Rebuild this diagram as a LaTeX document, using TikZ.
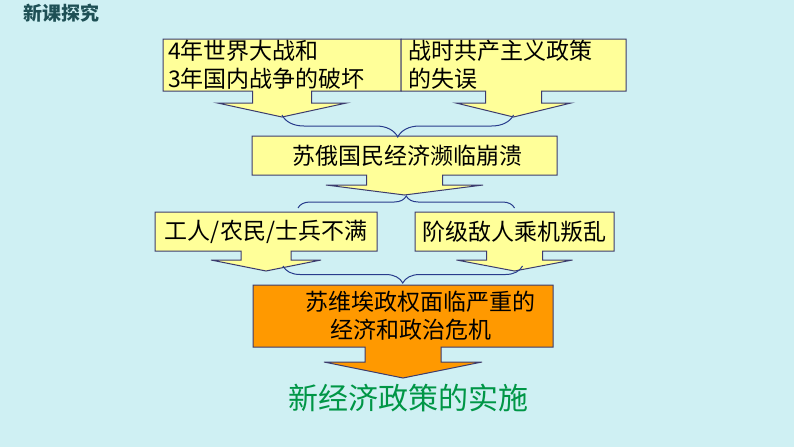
\documentclass[tikz,border=0pt]{standalone}
\usepackage{fontspec}
\newfontfamily\cjk{Noto Sans CJK SC}
\usetikzlibrary{calc,backgrounds,decorations.pathreplacing}

\definecolor{bgcyan}{RGB}{207,240,243}
\definecolor{boxyellow}{RGB}{255,255,153}
\definecolor{boxorange}{RGB}{255,153,0}
\definecolor{edgeblue}{RGB}{60,60,110}
\definecolor{bracecol}{RGB}{40,60,140}
\definecolor{nepgreen}{RGB}{0,150,70}
\definecolor{titleteal}{RGB}{30,80,85}

% box with a down arrow: node, fill, stem half width, stem length, head half width, head length
\newcommand{\callout}[6]{%
  \begin{pgfonlayer}{background}
    \filldraw[fill=#2, draw=edgeblue, line width=1pt]
      (#1.north west) -- (#1.north east) -- (#1.south east)
      -- ($(#1.south)+(#3,0)$) -- ($(#1.south)+(#3,#4)$) -- ($(#1.south)+(#5,#4)$)
      -- ($(#1.south)+(0,{#4+#6})$)
      -- ($(#1.south)+(-#5,#4)$) -- ($(#1.south)+(-#3,#4)$) -- ($(#1.south)+(-#3,0)$)
      -- (#1.south west) -- cycle;
  \end{pgfonlayer}
  \coordinate (#1-tip) at ($(#1.south)+(0,{#4+#6})$);}

\begin{document}
\begin{tikzpicture}[x=1pt, y=-1pt,
    box/.style={outer sep=0pt, inner sep=0pt, font=\cjk\fontsize{23}{28}\selectfont},
    bracedown/.style={draw=bracecol, line width=1pt, decorate, decoration={brace, mirror, amplitude=#1}},
    braceup/.style={draw=bracecol, line width=1pt, decorate, decoration={brace, amplitude=#1}}]
  \begin{pgfonlayer}{background}
    \fill[bgcyan] (0,0) rectangle (794,447);
  \end{pgfonlayer}
  \useasboundingbox (0,0) rectangle (794,447);

  \node[text=titleteal, font=\cjk\bfseries\fontsize{19}{22}\selectfont] (title) at (61,13) {新课探究};

  % causes
  \node[box, minimum width=238pt, minimum height=52pt, text width=228pt, align=left] (war) at (282,65) {4年世界大战和\\3年国内战争的破坏};
  \node[box, minimum width=225pt, minimum height=52pt, text width=211pt, align=left] (policy) at (513.5,65) {战时共产主义政策\\的失误};
  \callout{war}{boxyellow}{29.5}{12}{64.5}{14}
  \callout{policy}{boxyellow}{28}{12}{57.5}{14}

  \node[box, minimum width=305pt, minimum height=39pt] (economy) at (404.5,155.5) {\hspace*{6pt}苏俄国民经济濒临崩溃};
  \callout{economy}{boxyellow}{38}{10}{78.5}{10}

  \node[box, minimum width=222pt, minimum height=39pt] (workers) at (266,231.5) {工人/农民/士兵不满};
  \node[box, minimum width=199pt, minimum height=39pt] (rebels) at (514.5,231.5) {阶级敌人乘机叛乱};
  \callout{workers}{boxyellow}{25}{9}{55}{11}
  \callout{rebels}{boxyellow}{28}{9}{58}{11}

  \node[box, minimum width=300pt, minimum height=62pt, text width=290pt, align=left] (crisis) at (403,316)
    {\hspace*{47pt}苏维埃政权面临严重的\\\hspace*{72pt}经济和政治危机};
  \callout{crisis}{boxorange}{38}{15}{79}{16}

  \node[text=nepgreen, font=\cjk\fontsize{30}{36}\selectfont] (nep) at (408,398) {新经济政策的实施};

  % braces
  \draw[bracedown=22pt] ([yshift=2pt]war-tip) -- ([yshift=2pt]policy-tip);
  \draw[braceup=12pt] ([xshift=32pt,yshift=4pt]workers.north) -- ([yshift=4pt]rebels.north);
  \draw[bracedown=17pt] ([xshift=17pt,yshift=5pt]workers-tip) -- ([xshift=8pt,yshift=5pt]rebels-tip);
\end{tikzpicture}
\end{document}
